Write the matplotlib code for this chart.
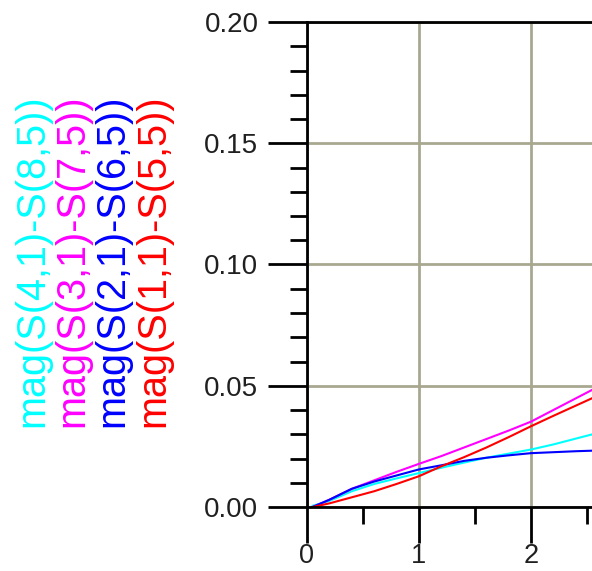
import matplotlib
matplotlib.use("Agg")
import matplotlib.pyplot as plt
from matplotlib.ticker import MultipleLocator, FixedLocator

plt.rcParams['font.family'] = ['Liberation Sans', 'DejaVu Sans']

freq = [0.05, 0.2, 0.4, 0.6, 0.8, 1.0, 1.2, 1.4, 1.6, 1.8, 2.0, 2.2, 2.4, 2.6]
s41_s85 = [0.0005, 0.0025, 0.0065, 0.0095, 0.0118, 0.0140, 0.0162, 0.0183, 0.0203, 0.0220, 0.0237, 0.0258, 0.0282, 0.0306]
s31_s75 = [0.0, 0.0030, 0.0075, 0.0110, 0.0145, 0.0178, 0.0210, 0.0245, 0.0280, 0.0315, 0.0352, 0.0400, 0.0448, 0.0496]
s21_s65 = [0.0, 0.0030, 0.0075, 0.0105, 0.0130, 0.0155, 0.0172, 0.0190, 0.0203, 0.0213, 0.0222, 0.0226, 0.0230, 0.0233]
s11_s55 = [0.0, 0.0015, 0.0040, 0.0065, 0.0095, 0.0127, 0.0168, 0.0205, 0.0245, 0.0288, 0.0333, 0.0376, 0.0418, 0.0460]

labels = ["mag(S(4,1)-S(8,5))", "mag(S(3,1)-S(7,5))", "mag(S(2,1)-S(6,5))", "mag(S(1,1)-S(5,5))"]
colors = ["#00ffff", "#ff00ff", "#0000ff", "#ff0000"]
series = [s41_s85, s31_s75, s21_s65, s11_s55]
x_major = [0, 1, 2]
x_minor = [0.5, 1.5, 2.5]

W, H = 592, 571
fig = plt.figure(figsize=(W/100, H/100), dpi=100)
ax = fig.add_axes([307/W, 64/H, 336/W, 485/H])

for ys, c in zip(series, colors):
    ax.plot(freq, ys, color=c, lw=1.5, solid_joinstyle='miter')

ax.set_xlim(0, 3)
ax.set_ylim(0, 0.20)
ax.xaxis.set_major_locator(FixedLocator(x_major))
ax.xaxis.set_minor_locator(FixedLocator(x_minor))
ax.yaxis.set_major_locator(MultipleLocator(0.05))
ax.yaxis.set_minor_locator(MultipleLocator(0.01))
ax.yaxis.set_major_formatter(plt.FuncFormatter(lambda v, p: f"{v:.2f}"))
ax.xaxis.set_major_formatter(plt.FuncFormatter(lambda v, p: f"{v:g}"))

ax.grid(True, which='major', color='#a8a890', lw=2)
ax.set_axisbelow(True)
for s in ['left', 'bottom', 'top']:
    ax.spines[s].set_linewidth(2)
    ax.spines[s].set_color('black')
ax.spines['right'].set_visible(False)

ax.tick_params(axis='both', which='major', direction='out', length=28, width=2,
               color='black', labelsize=20, labelcolor='#202020')
ax.tick_params(axis='both', which='minor', direction='out', length=12, width=2, color='black')
ax.tick_params(axis='y', which='major', pad=7)
ax.tick_params(axis='x', which='major', length=26, pad=0, labelsize=19.5)
ax.tick_params(top=False, right=False, which='both')

xs = [32, 72, 112, 153]
for x, lab, c in zip(xs, labels, colors):
    fig.text(x/W, (H-427)/H, lab, rotation=90, color=c, fontsize=28.5,
             ha='center', va='bottom')

fig.savefig("out.png", dpi=100)
